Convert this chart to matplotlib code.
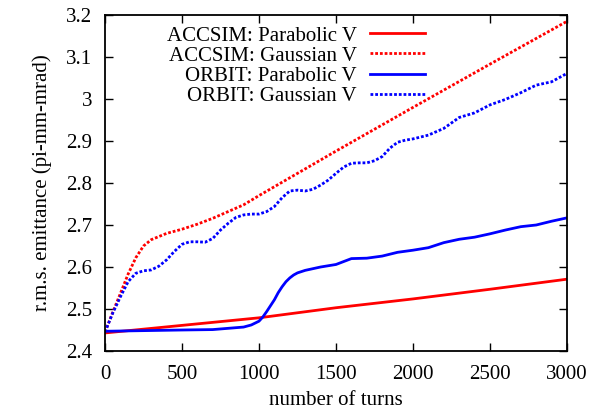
import matplotlib
matplotlib.use("Agg")
import matplotlib.pyplot as plt

plt.rcParams['font.family'] = ['Liberation Serif', 'DejaVu Serif']

# ACCSIM: Parabolic V
acc_par_x = [0, 500, 1000, 1500, 2000, 2500, 3000]
acc_par_y = [2.443, 2.461, 2.479, 2.503, 2.524, 2.547, 2.571]

# ACCSIM: Gaussian V
acc_gau_x = [0, 50, 100, 150, 200, 250, 300, 400, 500, 600, 700, 800, 900, 1000,
             1500, 2000, 2500, 3000]
acc_gau_y = [2.445, 2.492, 2.537, 2.583, 2.622, 2.650, 2.665, 2.680, 2.690, 2.702,
             2.716, 2.732, 2.748, 2.770, 2.876, 2.980, 3.083, 3.185]

# ORBIT: Parabolic V
orb_par_x = [0, 500, 700, 900, 950, 1000, 1025, 1050, 1075, 1100, 1125, 1150, 1175,
             1200, 1225, 1250, 1300, 1400, 1500, 1600, 1700, 1800, 1900, 2000,
             2100, 2200, 2300, 2400, 2500, 2600, 2700, 2800, 2900, 3000]
orb_par_y = [2.447, 2.450, 2.451, 2.457, 2.462, 2.471, 2.481, 2.494, 2.508, 2.522,
             2.539, 2.553, 2.565, 2.574, 2.581, 2.586, 2.592, 2.600, 2.606, 2.620,
             2.621, 2.626, 2.635, 2.640, 2.646, 2.658, 2.666, 2.671, 2.679, 2.688,
             2.696, 2.700, 2.709, 2.717]

# ORBIT: Gaussian V
orb_gau_x = [0, 50, 100, 150, 200, 250, 300, 350, 400, 450, 500, 550, 600, 650, 700,
             750, 800, 850, 900, 950, 1000, 1050, 1100, 1150, 1200, 1250, 1300,
             1350, 1400, 1450, 1500, 1550, 1600, 1650, 1700, 1750, 1800, 1850,
             1900, 1950, 2000, 2100, 2200, 2300, 2400, 2500, 2600, 2700, 2800,
             2900, 3000]
orb_gau_y = [2.445, 2.49, 2.529, 2.565, 2.585, 2.591, 2.593, 2.602, 2.617, 2.637,
             2.654, 2.660, 2.660, 2.659, 2.668, 2.688, 2.704, 2.718, 2.724, 2.726,
             2.726, 2.732, 2.744, 2.765, 2.781, 2.783, 2.781, 2.785, 2.795, 2.807,
             2.823, 2.838, 2.847, 2.848, 2.848, 2.853, 2.863, 2.883, 2.897, 2.902,
             2.905, 2.914, 2.930, 2.956, 2.967, 2.986, 2.999, 3.015, 3.033, 3.041,
             3.061]

labels = ["ACCSIM: Parabolic V", "ACCSIM: Gaussian V",
          "ORBIT: Parabolic V", "ORBIT: Gaussian V"]
xticks = [0, 500, 1000, 1500, 2000, 2500, 3000]
yticks = [2.4, 2.5, 2.6, 2.7, 2.8, 2.9, 3.0, 3.1, 3.2]
yticklabels = ["2.4", "2.5", "2.6", "2.7", "2.8", "2.9", "3", "3.1", "3.2"]

FS = 15

fig = plt.figure(figsize=(5.95, 4.12), dpi=100)
ax = fig.add_axes([105/595, 61/412, 462/595, 336/412])

lw = 2.0
dots = (0, (1.0, 0.7))
ax.plot(acc_par_x, acc_par_y, color='#ff0000', lw=lw, label=labels[0])
ax.plot(acc_gau_x, acc_gau_y, color='#ff0000', lw=lw, ls=dots, dash_capstyle='butt', label=labels[1])
ax.plot(orb_par_x, orb_par_y, color='#0000ff', lw=lw, label=labels[2])
ax.plot(orb_gau_x, orb_gau_y, color='#0000ff', lw=lw, ls=dots, dash_capstyle='butt', label=labels[3])

ax.set_xlim(0, 3000)
ax.set_ylim(2.4, 3.2)
ax.set_xticks(xticks)
ax.set_xticklabels([str(v) for v in xticks])
ax.set_yticks(yticks)
ax.set_yticklabels(yticklabels)
ax.tick_params(direction='in', length=5.5, width=1.0, top=True, right=True,
               labelsize=FS)
ax.tick_params(axis='y', pad=9)
ax.tick_params(axis='x', pad=10)
for s in ax.spines.values():
    s.set_linewidth(1.3)

ax.set_xlabel("number of turns", fontsize=FS, labelpad=5)
ax.set_ylabel("r.m.s. emittance (pi-mm-mrad)", fontsize=FS, labelpad=10)

leg = ax.legend(loc='upper right', bbox_to_anchor=(425/595, 1 - 26/412),
                bbox_transform=fig.transFigure, frameon=False,
                markerfirst=False, fontsize=FS, handlelength=2.65,
                handletextpad=0.63, labelspacing=0.03, borderaxespad=0.0,
                borderpad=0.0)
for t in leg.get_texts():
    t.set_ha('right')

fig.savefig("out.png", dpi=100)
